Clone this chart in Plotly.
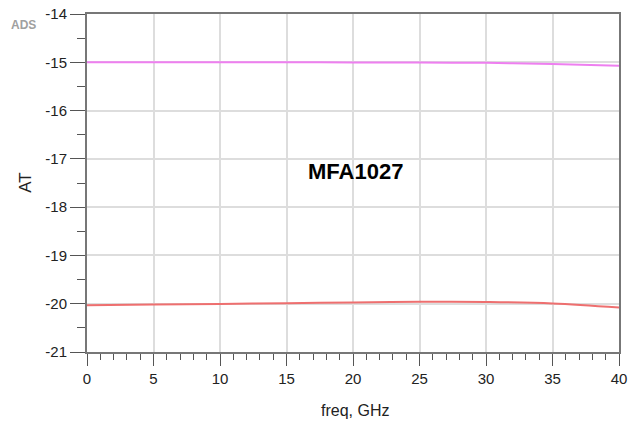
import plotly.graph_objects as go

freq = [0, 5, 10, 15, 20, 25, 30, 35, 40]
at_upper = [-15.0, -15.0, -15.0, -15.0, -15.002, -15.005, -15.012, -15.035, -15.07]
at_lower = [-20.03, -20.015, -20.005, -19.99, -19.975, -19.96, -19.965, -19.995, -20.08]
x_ticks = [0, 5, 10, 15, 20, 25, 30, 35, 40]
y_ticks = [-21, -20, -19, -18, -17, -16, -15, -14]

fig = go.Figure()
fig.add_trace(go.Scatter(x=freq, y=at_upper, mode="lines",
                         line=dict(color="#ee7ff0", width=2, shape="spline"),
                         showlegend=False))
fig.add_trace(go.Scatter(x=freq, y=at_lower, mode="lines",
                         line=dict(color="#ee6f6f", width=2, shape="spline"),
                         showlegend=False))

font_family = "Liberation Sans, Arial, Helvetica, sans-serif"

fig.update_layout(
    width=629, height=426,
    margin=dict(l=87, r=10, t=14, b=74),
    paper_bgcolor="white", plot_bgcolor="white",
    font=dict(family=font_family, color="#222222", size=15),
    xaxis=dict(range=[0, 40], tickvals=x_ticks, ticktext=[str(v) for v in x_ticks],
               automargin=False,
               showline=True, linecolor="#777777", linewidth=2, mirror=True,
               showgrid=True, gridcolor="#dddddd", gridwidth=1.5,
               ticks="outside", ticklen=12, tickcolor="#555555", tickwidth=1,
               minor=dict(dtick=1, ticks="outside", ticklen=6, tickcolor="#555555", showgrid=False),
               zeroline=False, tickfont=dict(size=15)),
    yaxis=dict(range=[-21, -14], tickvals=y_ticks, ticktext=[str(v) for v in y_ticks],
               automargin=False,
               showline=True, linecolor="#777777", linewidth=2, mirror=True,
               showgrid=True, gridcolor="#dddddd", gridwidth=1.5,
               ticks="outside", ticklen=15, tickcolor="#555555", tickwidth=1,
               minor=dict(dtick=0.5, ticks="outside", ticklen=8, tickcolor="#555555", showgrid=False),
               zeroline=False, tickfont=dict(size=15)),
    annotations=[
        dict(text="<b>MFA1027</b>", x=20.2, y=-17.27, xref="x", yref="y", showarrow=False,
             font=dict(size=22, color="black", family=font_family), xanchor="center", yanchor="middle"),
        dict(text="<b>ADS</b>", x=-0.12, y=0.967, xref="paper", yref="paper", showarrow=False,
             font=dict(size=12, color="#a0a0a0", family=font_family), xanchor="center", yanchor="middle"),
        dict(text="AT", x=-0.117, y=0.5, xref="paper", yref="paper", showarrow=False,
             textangle=-90, font=dict(size=17, color="#222222", family=font_family),
             xanchor="center", yanchor="middle"),
        dict(text="freq, GHz", x=0.504, y=-0.172, xref="paper", yref="paper", showarrow=False,
             font=dict(size=16, color="#222222", family=font_family),
             xanchor="center", yanchor="middle"),
    ],
)

fig.write_html("out.html", config={"displayModeBar": False},
               post_script="document.body.style.margin='0';document.body.style.padding='0';")
